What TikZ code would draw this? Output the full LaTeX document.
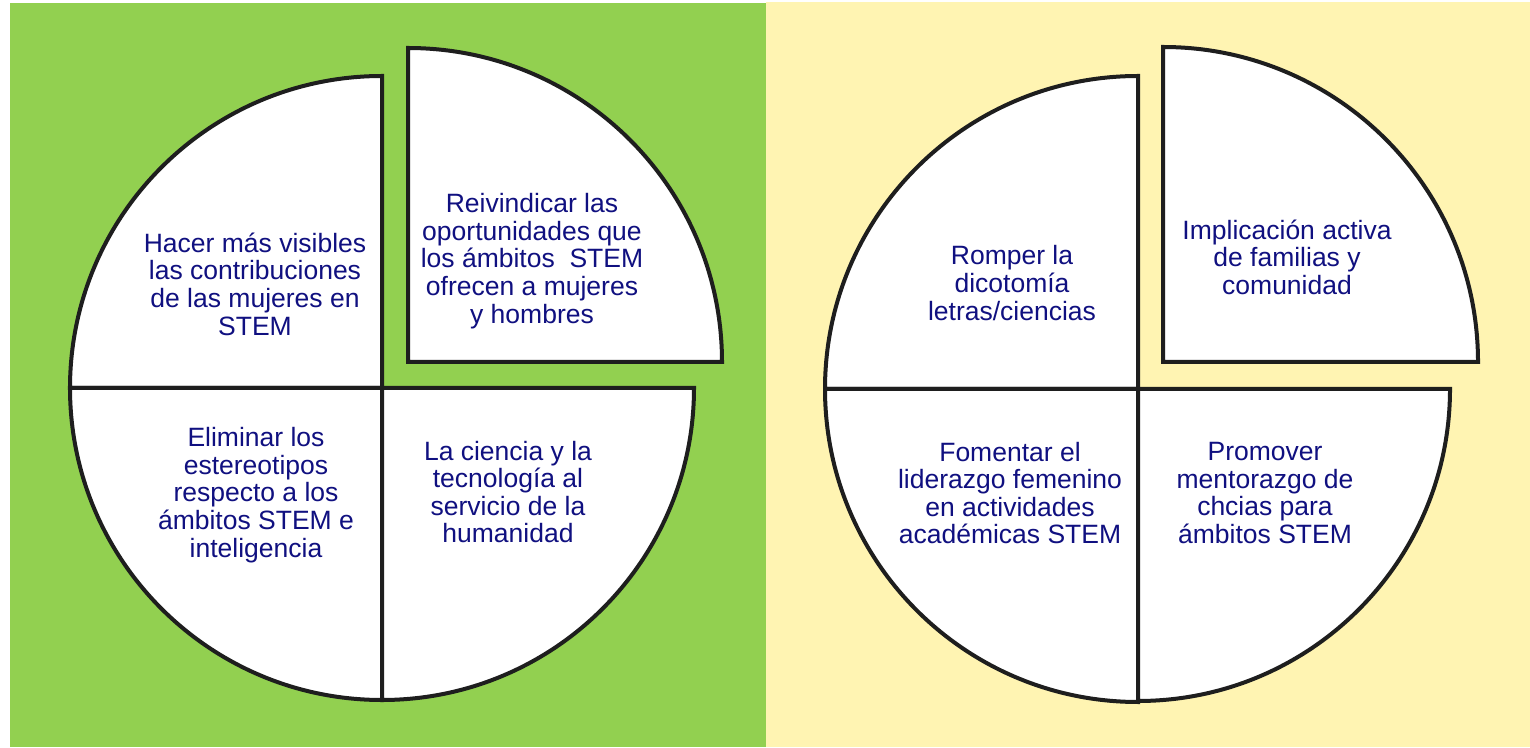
\documentclass[tikz,border=0pt]{standalone}
\usepackage{fontspec}
\setmainfont{Liberation Sans}
\definecolor{bggreen}{RGB}{146,208,80}
\definecolor{bgyellow}{RGB}{255,244,178}
\definecolor{edge}{RGB}{30,30,30}
\definecolor{txt}{RGB}{16,16,128}
\tikzset{
  sector/.style={fill=white,draw=edge,line width=4pt,line join=miter},
  lbl/.style={align=center,text=txt,font=\fontsize{26.5pt}{27.6pt}\selectfont,inner sep=0pt}
}
\begin{document}
\begin{tikzpicture}[x=1pt,y=1pt]
\useasboundingbox (0,0) rectangle (1530,747);
\fill[bggreen] (10,0) rectangle (766,744);
\fill[bgyellow] (766,0) rectangle (1530,745);
% left pie
\def\r{312}
\draw[sector] (382,359) -- ++(-\r,0) arc[start angle=180,end angle=90,radius=\r] -- cycle;
\draw[sector] (382,359) -- ++(-\r,0) arc[start angle=180,end angle=270,radius=\r] -- cycle;
\draw[sector] (382,359) -- ++(0,-\r) arc[start angle=270,end angle=360,radius=\r] -- cycle;
\draw[sector] (408,385) -- ++(314,0) arc[start angle=0,end angle=90,radius=314] -- cycle;
% right pie
\draw[sector] (1138,358) -- ++(-313,0) arc[start angle=180,end angle=90,radius=313] -- cycle;
\draw[sector] (1138,358) -- ++(-313,0) arc[start angle=180,end angle=270,radius=313] -- cycle;
\draw[sector] (1138,358) -- ++(0,-312) arc[start angle=270,end angle=360,radius=312] -- cycle;
\draw[sector] (1163,385) -- ++(315,0) arc[start angle=0,end angle=90,radius=315] -- cycle;
% labels
\node[lbl] (l1) at (255,463) {Hacer más visibles\\las contribuciones\\de las mujeres en\\STEM};
\node[lbl] (l2) at (532,486) {Reivindicar las\\oportunidades que\\los ámbitos~ STEM\\ofrecen a mujeres\\y hombres};
\node[lbl] (l3) at (256,252) {Eliminar los\\estereotipos\\respecto a los\\ámbitos STEM e\\inteligencia};
\node[lbl] (l4) at (508,255) {La ciencia y la\\tecnología al\\servicio de la\\humanidad};
\node[lbl] (r1) at (1012,464) {Romper la\\dicotomía\\letras/ciencias};
\node[lbl] (r2) at (1287,490) {Implicación activa\\de familias y\\comunidad};
\node[lbl] (r3) at (1010,254) {Fomentar el\\liderazgo femenino\\en actividades\\académicas STEM};
\node[lbl] (r4) at (1265,254) {Promover\\mentorazgo de\\chcias para\\ámbitos STEM};
\end{tikzpicture}
\end{document}
